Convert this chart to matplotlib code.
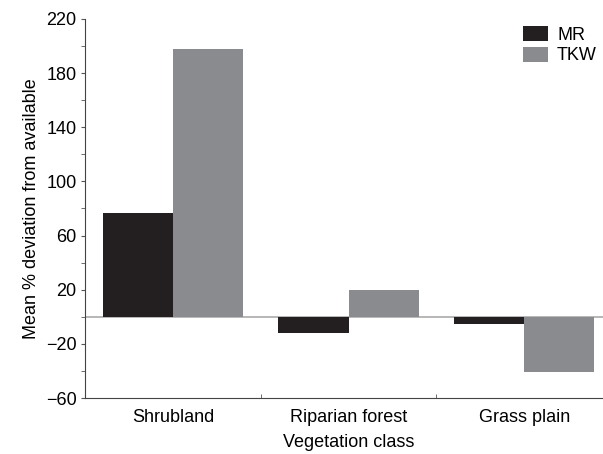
import matplotlib.pyplot as plt
import numpy as np

plt.rcParams['font.family'] = ['Liberation Sans', 'DejaVu Sans']

categories = ['Shrubland', 'Riparian forest', 'Grass plain']
mr = [77, -12, -5]
tkw = [198, 20, -41]

fig = plt.figure(figsize=(6.03, 4.54), dpi=100)
ax = fig.add_axes([0.141, 0.1233, 0.874, 0.835])

x = np.arange(len(categories))
w = 0.4
ax.bar(x - w / 2, mr, w, color='#231f20', label='MR')
ax.bar(x + w / 2, tkw, w, color='#8a8b8e', label='TKW')
ax.axhline(0, color='#aaaaaa', lw=1.2, zorder=0)

ax.set_xlim(-0.5, 2.5)
ax.set_ylim(-60, 220)
ax.set_yticks(np.arange(-60, 221, 40))
ax.set_yticks(np.arange(-40, 221, 40), minor=True)
ax.set_xticks(x)
ax.set_xticklabels(categories)
ax.set_xticks([0.5, 1.5], minor=True)
ax.tick_params(axis='x', which='major', length=0, pad=8, labelsize=13)
ax.tick_params(axis='x', which='minor', direction='in', length=3, color='#555555')
ax.tick_params(axis='y', which='both', length=3, color='#555555', labelsize=13, pad=3)

for s in ['top', 'right']:
    ax.spines[s].set_visible(False)
for s in ['left', 'bottom']:
    ax.spines[s].set_color('#444444')

ax.set_xlabel('Vegetation class', fontsize=13, labelpad=6)
ax.set_ylabel('Mean % deviation from available', fontsize=13, labelpad=4)

ax.legend(loc='upper right', bbox_to_anchor=(0.985, 1.0), frameon=False,
          fontsize=13, handlelength=1.4, handleheight=0.9, handletextpad=0.5,
          labelspacing=0.15, borderaxespad=0)

fig.savefig('out.png', dpi=100)
